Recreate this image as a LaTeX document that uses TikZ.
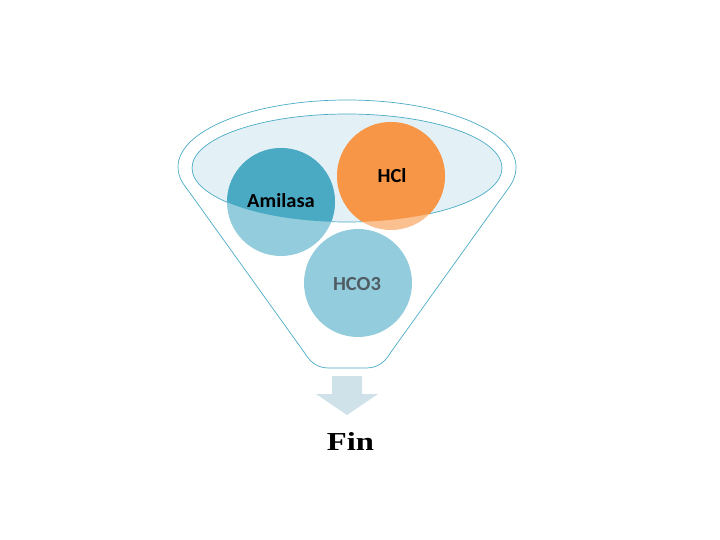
\documentclass[tikz,border=0pt]{standalone}
\usepackage{fontspec}
\setmainfont{Liberation Serif}
\newfontfamily\calibri{Carlito}
\definecolor{rim}{HTML}{4BACC6}
\definecolor{liquid}{HTML}{E3F0F5}
\definecolor{tealD}{HTML}{4AA9C3}
\definecolor{tealL}{HTML}{93CDDD}
\definecolor{orangeD}{HTML}{F79646}
\definecolor{orangeL}{HTML}{FAC090}
\definecolor{hcogray}{HTML}{505C63}
\definecolor{spout}{HTML}{CFE2EA}
\tikzset{
  lbl/.style={font=\calibri\bfseries\fontsize{20}{20}\selectfont, xscale=1.03, inner sep=0pt, anchor=base},
  finlbl/.style={font=\bfseries\fontsize{26}{26}\selectfont, xscale=1.26, inner sep=0pt, anchor=base},
}
\begin{document}
\begin{tikzpicture}[x=1bp,y=-1bp,line width=0.7bp]
\useasboundingbox (0,0) rectangle (720,540);
% funnel body
\draw[rim,fill=white] (178,167) arc[start angle=180,end angle=360,x radius=169,y radius=67]
  .. controls (516,178) and (511,185) .. (505,193) -- (391,352)
  .. controls (385,362) and (378,368) .. (366,368) -- (329,368)
  .. controls (317,368) and (310,362) .. (304,352) -- (190,193)
  .. controls (184,185) and (178,178) .. (178,167) -- cycle;
\draw[rim,fill=liquid] (347,168) ellipse[x radius=155,y radius=54];
% balls
\fill[tealL] (281,202) circle (54);
\fill[orangeL] (391,176) circle (54);
\fill[tealL] (358,283) circle (54);
\begin{scope}
  \clip (347,168) ellipse[x radius=155,y radius=54];
  \fill[tealD] (281,202) circle (54);
  \fill[orangeD] (391,176) circle (54);
\end{scope}
\node[lbl] (amilasa) at (281,208) {Amilasa};
\node[lbl] (hcl) at (392,183) {HCl};
\node[lbl,text=hcogray] (hco) at (357,290) {HCO3};
% spout arrow
\fill[spout] (332,376) -- (362,376) -- (362,394) -- (378,394) -- (347,415) -- (316,394) -- (332,394) -- cycle;
\node[finlbl] (fin) at (350.5,450) {Fin};
\end{tikzpicture}
\end{document}
